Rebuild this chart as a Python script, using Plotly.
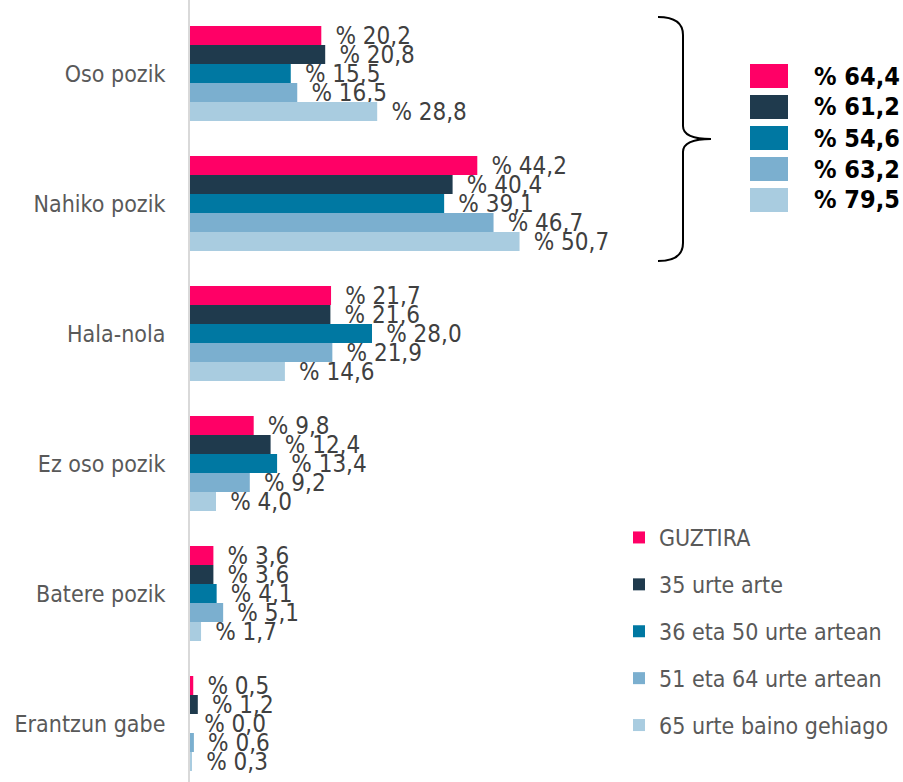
import plotly.graph_objects as go

categories = ["Oso pozik", "Nahiko pozik", "Hala-nola", "Ez oso pozik", "Batere pozik", "Erantzun gabe"]
series_names = ["GUZTIRA", "35 urte arte", "36 eta 50 urte artean", "51 eta 64 urte artean", "65 urte baino gehiago"]
guztira = [20.2, 44.2, 21.7, 9.8, 3.6, 0.5]
urte35 = [20.8, 40.4, 21.6, 12.4, 3.6, 1.2]
urte36_50 = [15.5, 39.1, 28.0, 13.4, 4.1, 0.0]
urte51_64 = [16.5, 46.7, 21.9, 9.2, 5.1, 0.6]
urte65 = [28.8, 50.7, 14.6, 4.0, 1.7, 0.3]
summary_values = [64.4, 61.2, 54.6, 63.2, 79.5]
colors = ["#FF0066", "#1F3A4D", "#0078A2", "#7BAFCF", "#A9CCE0"]

W, H = 903, 782
ML, MR, MT, MB = 190, 0, 0, 0
PW, PH = W - ML - MR, H - MT - MB
FONT = "DejaVu Sans Condensed, Tahoma, DejaVu Sans, sans-serif"


def px(x):
    return (x - ML) / PW


def py(y):
    return 1 - (y - MT) / PH


def fmt(v):
    return "% " + f"{v:.1f}".replace(".", ",")


fig = go.Figure()
all_values = [guztira, urte35, urte36_50, urte51_64, urte65]
for name, vals, col in zip(series_names, all_values, colors):
    fig.add_trace(go.Bar(
        name=name, y=categories, x=vals, orientation="h",
        marker=dict(color=col, line=dict(width=0)),
        text=["\u00a0\u202f" + fmt(v) for v in vals],
        textposition="outside", constraintext="none", cliponaxis=False,
        textfont=dict(family=FONT, size=24, color="#404040"),
        legendgroup=name, hoverinfo="skip",
    ))

# scale: 6.5 px per percentage point
xmax = PW / 6.5
# category centres at 73.5 px + 130 px * index
top_val = (0 - 73.5) / 130
bot_val = (H - 73.5) / 130

fig.update_layout(
    width=W, height=H,
    margin=dict(l=ML, r=MR, t=MT, b=MB, pad=0),
    paper_bgcolor="white", plot_bgcolor="white",
    barmode="group", bargap=35 / 130, bargroupgap=0,
    font=dict(family=FONT, color="#595959"),
    xaxis=dict(range=[0, xmax], visible=False, fixedrange=True),
    yaxis=dict(
        type="category", categoryorder="array", categoryarray=categories,
        range=[bot_val, top_val], showgrid=False, zeroline=False,
        showline=True, linecolor="#D9D9D9", linewidth=2,
        ticks="", ticklabelstandoff=18, fixedrange=True,
        tickfont=dict(family=FONT, size=23, color="#595959"),
    ),
    showlegend=True,
    legend=dict(
        x=px(619), y=py(516), xanchor="left", yanchor="top",
        traceorder="grouped", tracegroupgap=14,
        font=dict(family=FONT, size=23, color="#595959"),
        bgcolor="rgba(0,0,0,0)", itemclick=False, itemdoubleclick=False,
    ),
)

# summary block ("Oso pozik" + "Nahiko pozik")
row_top = 64
for i, (val, col) in enumerate(zip(summary_values, colors)):
    y0 = row_top + 31 * i
    fig.add_shape(type="rect", xref="paper", yref="paper",
                  x0=px(750), x1=px(788), y0=py(y0), y1=py(y0 + 24),
                  fillcolor=col, line=dict(width=0))
    fig.add_annotation(xref="paper", yref="paper", x=px(812), y=py(y0 + 12),
                       xanchor="left", yanchor="middle", showarrow=False,
                       text="<b>" + fmt(val) + "</b>",
                       font=dict(family=FONT, size=25, color="#000000"))

# curly brace
pts = [("M", 658, 17), ("Q", 683, 17, 683, 35), ("L", 683, 126), ("Q", 683, 139, 711, 139),
       ("Q", 683, 139, 683, 152), ("L", 683, 243), ("Q", 683, 261, 658, 261)]
path = ""
for p in pts:
    cmd = p[0]
    coords = p[1:]
    s = []
    for k in range(0, len(coords), 2):
        s.append(f"{px(coords[k]):.5f},{py(coords[k+1]):.5f}")
    path += cmd + " ".join(s) + " "
fig.add_shape(type="path", xref="paper", yref="paper", path=path.strip(),
              line=dict(color="#000000", width=2))

fig.write_html("out.html", config={"displayModeBar": False},
               post_script="document.body.style.margin='0px';document.body.style.overflow='hidden';")
